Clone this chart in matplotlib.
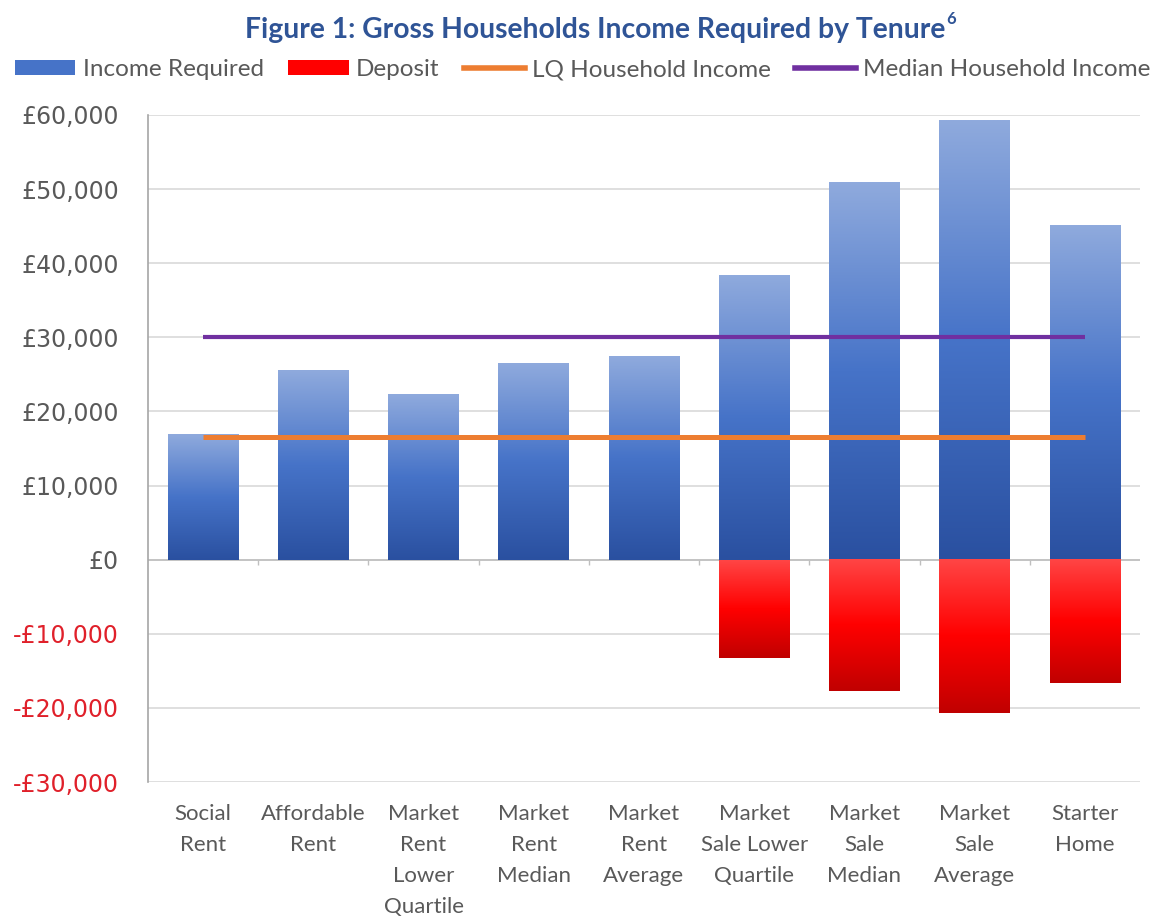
import numpy as np
import matplotlib
matplotlib.use("Agg")
import matplotlib.pyplot as plt
from matplotlib.colors import LinearSegmentedColormap
from matplotlib.patches import Patch
from matplotlib.lines import Line2D
from matplotlib.ticker import FuncFormatter

# data
categories = ["Social\nRent", "Affordable\nRent", "Market\nRent\nLower\nQuartile",
              "Market\nRent\nMedian", "Market\nRent\nAverage", "Market\nSale Lower\nQuartile",
              "Market\nSale\nMedian", "Market\nSale\nAverage", "Starter\nHome"]
income_required = [17000, 25600, 22300, 26450, 27500, 38450, 51000, 59300, 45200]
deposit = [0, 0, 0, 0, 0, -13200, -17700, -20700, -16600]
lq_income = [16600] * 9
median_income = [30100] * 9

blue_cmap = LinearSegmentedColormap.from_list("blue", ["#2A50A0", "#4673C8", "#8FAADD"])
red_cmap = LinearSegmentedColormap.from_list("red", ["#C00000", "#FF0000", "#FF4545"])

fig = plt.figure(figsize=(11.65, 9.17), dpi=100)
ax = fig.add_axes([0.127, 0.1472, 0.8515, 0.7274])

x = np.arange(len(categories))
w = 0.64
grad = np.linspace(0, 1, 256).reshape(-1, 1)

for xi, v in zip(x, income_required):
    ax.imshow(grad, extent=[xi - w / 2, xi + w / 2, 0, v], origin="lower",
              aspect="auto", cmap=blue_cmap, zorder=2)
for xi, v in zip(x, deposit):
    if v < 0:
        ax.imshow(grad, extent=[xi - w / 2, xi + w / 2, v, 0], origin="lower",
                  aspect="auto", cmap=red_cmap, zorder=2)

ax.plot(x, lq_income, color="#ED7D31", lw=3.6, zorder=3, solid_capstyle="butt")
ax.plot(x, median_income, color="#7030A0", lw=3.0, zorder=3, solid_capstyle="butt")

ax.set_xlim(-0.5, len(categories) - 0.5)
ax.set_ylim(-30000, 60000)
ax.set_yticks(np.arange(-30000, 60001, 10000))
ax.yaxis.grid(True, color="#D9D9D9", lw=1.2, zorder=0)
ax.set_axisbelow(True)


def money(v, pos):
    if v < 0:
        return "-£{:,.0f}".format(-v)
    return "£{:,.0f}".format(v)


ax.yaxis.set_major_formatter(FuncFormatter(money))
for lbl, v in zip(ax.get_yticklabels(), ax.get_yticks()):
    lbl.set_color("#E0202A" if v < 0 else "#595959")
    lbl.set_fontsize(17)
ax.tick_params(axis="y", length=0, pad=21)

ax.set_xticks(x)
ax.set_xticklabels(categories, fontsize=16, color="#595959", family="Lato",
                   linespacing=1.68, va="top")
ax.tick_params(axis="x", length=0, pad=16)

for s in ["top", "right", "bottom"]:
    ax.spines[s].set_visible(False)
ax.spines["left"].set_color("#A6A6A6")
ax.spines["left"].set_linewidth(1.2)
ax.axhline(0, color="#BFBFBF", lw=1.2, zorder=1)
# little category tick marks on the zero line
ax.vlines(x[:-1] + 0.5, -700, 0, color="#BFBFBF", lw=1.0, zorder=1)

title = fig.text(0.511, 0.967, "Figure 1: Gross Households Income Required by Tenure",
                 ha="center", va="center", fontsize=20.3, fontweight="bold",
                 color="#2F5496", family="Lato")
fig.canvas.draw()
bb = title.get_window_extent(fig.canvas.get_renderer()).transformed(fig.transFigure.inverted())
fig.text(bb.x1 + 0.001, 0.979, "6", ha="left", va="center", fontsize=12,
         fontweight="bold", color="#2F5496", family="Lato")

handles = [Patch(facecolor="#4673C8", edgecolor="none"),
           Patch(facecolor="#FF0000", edgecolor="none"),
           Line2D([], [], color="#ED7D31", lw=4),
           Line2D([], [], color="#7030A0", lw=4)]
labels = ["Income Required", "Deposit", "LQ Household Income", "Median Household Income"]
fig.legend(handles, labels, loc="center", bbox_to_anchor=(0.5, 0.924), ncol=4,
           frameon=False, handlelength=2.5, handleheight=0.55, handletextpad=0.3,
           columnspacing=1.0, prop={"family": "Lato", "size": 17.5}, labelcolor="#595959")

fig.savefig("out.png", dpi=100)
